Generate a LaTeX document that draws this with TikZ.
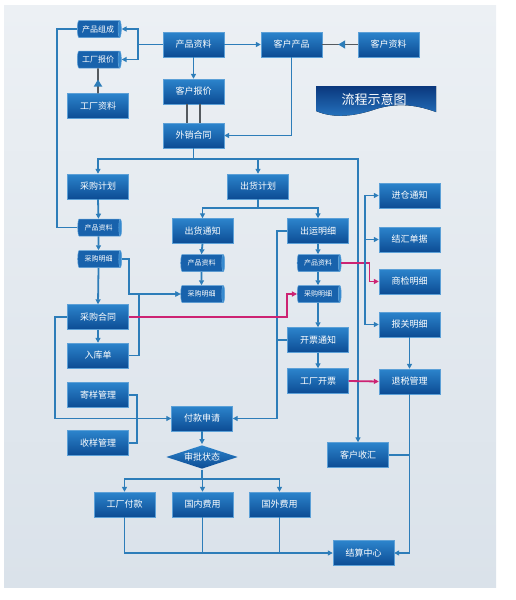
\documentclass[tikz,border=0pt]{standalone}
\usepackage{fontspec}
\newfontfamily\cjk{Noto Sans CJK SC}
\usetikzlibrary{shapes.geometric,arrows.meta,decorations.markings}
\definecolor{boxtop}{RGB}{44,132,204}
\definecolor{boxbot}{RGB}{12,76,148}
\definecolor{boxedge}{RGB}{92,160,215}
\definecolor{canbody}{RGB}{24,98,172}
\definecolor{canend}{RGB}{52,136,206}
\definecolor{linec}{RGB}{45,125,185}
\definecolor{pinkc}{RGB}{205,35,115}
\definecolor{greyc}{RGB}{85,90,95}
\definecolor{bgtop}{RGB}{236,240,244}
\definecolor{bgbot}{RGB}{218,226,234}
\definecolor{ttltop}{RGB}{10,55,125}
\definecolor{ttlbot}{RGB}{40,120,195}
\begin{document}
\begin{tikzpicture}[x=1pt,y=-1pt,line width=1.8pt,
  every node/.style={text=white,inner sep=1pt},
  box/.style={rectangle,minimum width=61pt,minimum height=25pt,top color=boxtop,bottom color=boxbot,
    draw=boxedge,line width=.4pt,font=\cjk\fontsize{9}{10}\selectfont},
  can/.style={cylinder,shape aspect=.35,minimum height=44pt,minimum width=17pt,cylinder uses custom fill,
    cylinder body fill=canbody,cylinder end fill=canend,draw=boxedge,line width=.5pt,
    font=\cjk\fontsize{7}{8}\selectfont},
  bigcan/.style={can,font=\cjk\fontsize{8}{9}\selectfont},
  decide/.style={diamond,aspect=3,inner sep=0pt,minimum width=72pt,minimum height=24pt,
    top color=boxtop,bottom color=boxbot,font=\cjk\fontsize{9}{10}\selectfont},
  ln/.style={draw=linec},
  arr/.style={draw=linec,-{Triangle[length=5pt,width=5pt]}},
  parr/.style={draw=pinkc,-{Triangle[length=5pt,width=5pt]}},
  dline/.style={draw=greyc},
  midtri/.style={draw=greyc,postaction={decorate},decoration={markings,
    mark=at position .55 with {\arrow[linec]{Triangle[length=7pt,width=8pt]}}}}]
  \path[use as bounding box] (0,0) rectangle (515,600);
  \fill[top color=bgtop,bottom color=bgbot] (4,5) rectangle (496,587);
  % title banner
  \fill[top color=ttltop,bottom color=ttlbot] (316,86) -- (436,86) -- (436,112)
    .. controls (414,104) and (396,103) .. (376,109) .. controls (356,116) and (334,119) .. (316,111) -- cycle;
  \node[font=\cjk\fontsize{13}{14}\selectfont] (ttl) at (374,99) {流程示意图};
  % nodes
  \node[bigcan] (pzc) at (98,29) {产品组成};
  \node[bigcan] (gcbj) at (98,59.5) {工厂报价};
  \node[box] (gczl) at (98,106) {工厂资料};
  \node[box] (cpzl) at (193.5,44.5) {产品资料};
  \node[box] (khbj) at (193.5,91.5) {客户报价};
  \node[box] (wxht) at (193.5,135.5) {外销合同};
  \node[box] (khcp) at (291.5,44.5) {客户产品};
  \node[box] (khzl) at (388.5,44.5) {客户资料};
  \node[box] (cgjh) at (98,186.5) {采购计划};
  \node[box] (chjh) at (258,186.5) {出货计划};
  \node[can] (cpzlA) at (98.5,227.5) {产品资料};
  \node[can] (cgmxA) at (98.5,259) {采购明细};
  \node[box] (chtz) at (202.5,231) {出货通知};
  \node[can] (cpzlB) at (201.5,263) {产品资料};
  \node[can] (cgmxB) at (201.5,294) {采购明细};
  \node[box] (cymx) at (318,231) {出运明细};
  \node[can] (cpzlC) at (318,263) {产品资料};
  \node[can] (cgmxC) at (318,294) {采购明细};
  \node[box] (cght) at (98,317) {采购合同};
  \node[box] (rkd) at (98,355.5) {入库单};
  \node[box] (jygl) at (98,395) {寄样管理};
  \node[box] (sygl) at (98,443) {收样管理};
  \node[box] (kptz) at (318,340) {开票通知};
  \node[box] (gckp) at (318,381) {工厂开票};
  \node[box] (jctz) at (409.5,195.5) {进仓通知};
  \node[box] (jhdj) at (409.5,239.5) {结汇单据};
  \node[box] (sjmx) at (409.5,281.5) {商检明细};
  \node[box] (bgmx) at (409.5,324.5) {报关明细};
  \node[box] (tsgl) at (409.5,381.5) {退税管理};
  \node[box] (fksq) at (202,418.5) {付款申请};
  \node[decide] (spzt) at (202,457) {审批状态};
  \node[box] (khsh) at (358,455) {客户收汇};
  \node[box] (gcfk) at (124.5,504.5) {工厂付款};
  \node[box] (gnfy) at (202.5,504.5) {国内费用};
  \node[box] (gwfy) at (279.5,504.5) {国外费用};
  \node[box] (jszx) at (363.5,553) {结算中心};
  \coordinate (bk) at (365,324.5);
  % top part
  \draw[arr] (cpzl.west) -- ++(-25,0) |- (pzc.east);
  \draw[arr] (cpzl.west) -- ++(-25,0) |- (gcbj.east);
  \draw[midtri] (gczl.north) -- (gcbj.south);
  \draw[ln] (pzc.west) -- ++(-20,0) |- (cpzlA.west);
  \draw[arr] (cpzl.east) -- (khcp.west);
  \draw[midtri] (khzl.west) -- (khcp.east);
  \draw[arr] (khcp.south) |- (wxht.east);
  \draw[arr] (cpzl.south) -- (khbj.north);
  \draw[dline] ([xshift=-6.5pt]khbj.south) -- ([xshift=-6.5pt]wxht.north);
  \draw[dline] ([xshift=6.5pt]khbj.south) -- ([xshift=6.5pt]wxht.north);
  \draw[arr] (wxht.south) -- ++(0,11) -| (cgjh.north);
  \draw[arr] (wxht.south) -- ++(0,11) -| (chjh.north);
  \draw[arr] (wxht.south) -- ++(0,11) -| (khsh.north);
  % purchase column
  \draw[arr] (cgjh.south) -- (cpzlA.north);
  \draw[arr] (cpzlA.south) -- (cgmxA.north);
  \draw[arr] (cgmxA.south) -- (cght.north);
  \draw[arr] (cght.south) -- (rkd.north);
  \draw[arr] (cgmxA.east) -- ++(7,0) |- (cgmxB.west);
  \draw[arr] (rkd.east) -- ++(10,0) |- (cgmxB.west);
  \draw[arr] (cght.west) -- ++(-12,0) |- (fksq.west);
  \draw[ln] (jygl.east) -- ++(8,0) |- (sygl.east);
  % shipping columns
  \draw[arr] (chjh.south) -- ++(0,9) -| (chtz.north);
  \draw[arr] (chjh.south) -- ++(0,9) -| (cymx.north);
  \draw[arr] (chtz.south) -- (cpzlB.north);
  \draw[arr] (cpzlB.south) -- (cgmxB.north);
  \draw[arr] (cymx.south) -- (cpzlC.north);
  \draw[arr] (cpzlC.south) -- (cgmxC.north);
  \draw[arr] (cgmxC.south) -- (kptz.north);
  \draw[arr] (kptz.south) -- (gckp.north);
  \draw[arr] (cymx.west) -- ++(-10,0) |- (fksq.east);
  \draw[ln] (kptz.west) -- ++(-10,0);
  \draw[parr] (cght.east) -- ++(158.5,0) |- (cgmxC.west);
  \draw[parr] (cpzlC.east) -- ++(28,0) |- (sjmx.west);
  \draw[parr] (gckp.east) -- (tsgl.west);
  % right column
  \draw[arr] (bk) |- (jctz.west);
  \draw[arr] (bk |- jhdj.west) -- (jhdj.west);
  \draw[arr] (bk) -- (bgmx.west);
  \draw[arr] (bgmx.south) -- (tsgl.north);
  \draw[arr] (tsgl.south) |- (jszx.east);
  \draw[ln] (khsh.east) -- (khsh.east -| tsgl.south);
  % payment
  \draw[arr] (fksq.south) -- (spzt.north);
  \draw[arr] (spzt.south) -- ++(0,9) -| (gcfk.north);
  \draw[arr] (spzt.south) -- ++(0,9) -| (gnfy.north);
  \draw[arr] (spzt.south) -- ++(0,9) -| (gwfy.north);
  \draw[arr] (gcfk.south) |- (jszx.west);
  \draw[ln] (gnfy.south) -- (gnfy.south |- jszx.west);
  \draw[ln] (gwfy.south) -- (gwfy.south |- jszx.west);
\end{tikzpicture}
\end{document}
